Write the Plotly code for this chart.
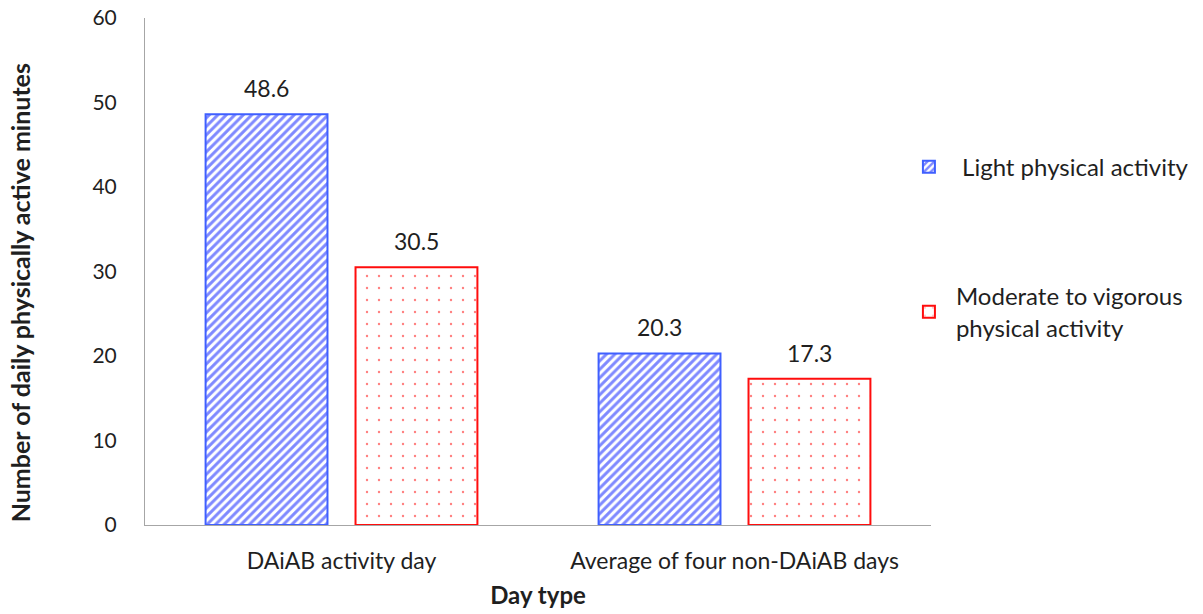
import plotly.graph_objects as go

day_types = ["DAiAB activity day", "Average of four non-DAiAB days"]
light_minutes = [48.6, 20.3]
mvpa_minutes = [30.5, 17.3]
y_ticks = [0, 10, 20, 30, 40, 50, 60]

FONT = "Lato, 'Open Sans', sans-serif"
TEXT = "#1f1f1f"

fig = go.Figure()
fig.add_trace(go.Bar(
    name="\u00a0Light physical activity",
    x=day_types, y=light_minutes,
    legendgroup="a",
    marker=dict(
        color="white",
        line=dict(color="#3f5fff", width=2),
        pattern=dict(shape="/", fgcolor="#0014ff", bgcolor="white",
                     size=6, solidity=0.5, fillmode="overlay"),
    ),
))
fig.add_trace(go.Bar(
    name="Moderate to vigorous<br>physical activity",
    x=day_types, y=mvpa_minutes,
    legendgroup="b",
    marker=dict(
        color="white",
        line=dict(color="#ff0d0d", width=2),
        pattern=dict(shape=".", fgcolor="#ff0000", bgcolor="white",
                     size=12, solidity=0.03, fillmode="overlay"),
    ),
))

# value labels above each bar (bar centres sit 75 px either side of the category)
for series, shift in ((light_minutes, -75), (mvpa_minutes, 75)):
    for cat, val in zip(day_types, series):
        fig.add_annotation(
            x=cat, y=val, xref="x", yref="y",
            text=f"{val:.1f}", showarrow=False,
            xshift=shift, yanchor="bottom", yshift=10,
            font=dict(size=23, color=TEXT),
        )

# vertical axis title, placed slightly below the plot's middle
fig.add_annotation(
    text="<b>Number of daily physically active minutes</b>",
    xref="paper", yref="paper", x=-0.159, y=0.457,
    xanchor="center", yanchor="middle", textangle=-90,
    showarrow=False, font=dict(size=25, color=TEXT),
)

fig.update_layout(
    width=1203, height=614,
    margin=dict(l=145, r=272, t=18, b=89, autoexpand=False),
    plot_bgcolor="white", paper_bgcolor="white",
    font=dict(family=FONT, size=22, color=TEXT),
    barmode="group",
    bargap=0.237,
    bargroupgap=0.187,
    legend=dict(
        x=0.963, xanchor="left", y=0.75, yanchor="top",
        font=dict(size=24, color=TEXT),
        tracegroupgap=95,
        itemsizing="constant",
        itemwidth=44,
    ),
    xaxis=dict(
        showline=True, linecolor="#a6a6a6", linewidth=1,
        ticks="", showgrid=False, automargin=False,
        tickfont=dict(size=23),
        ticklabelstandoff=15,
        title=dict(text="<b>Day type</b>", font=dict(size=24), standoff=14),
    ),
    yaxis=dict(
        range=[0, 60], tickvals=y_ticks,
        showline=True, linecolor="#a6a6a6", linewidth=1,
        ticks="", showgrid=False, zeroline=False, automargin=False,
        tickfont=dict(size=21),
        ticklabelstandoff=23,
    ),
)

fig.write_html("out.html")
